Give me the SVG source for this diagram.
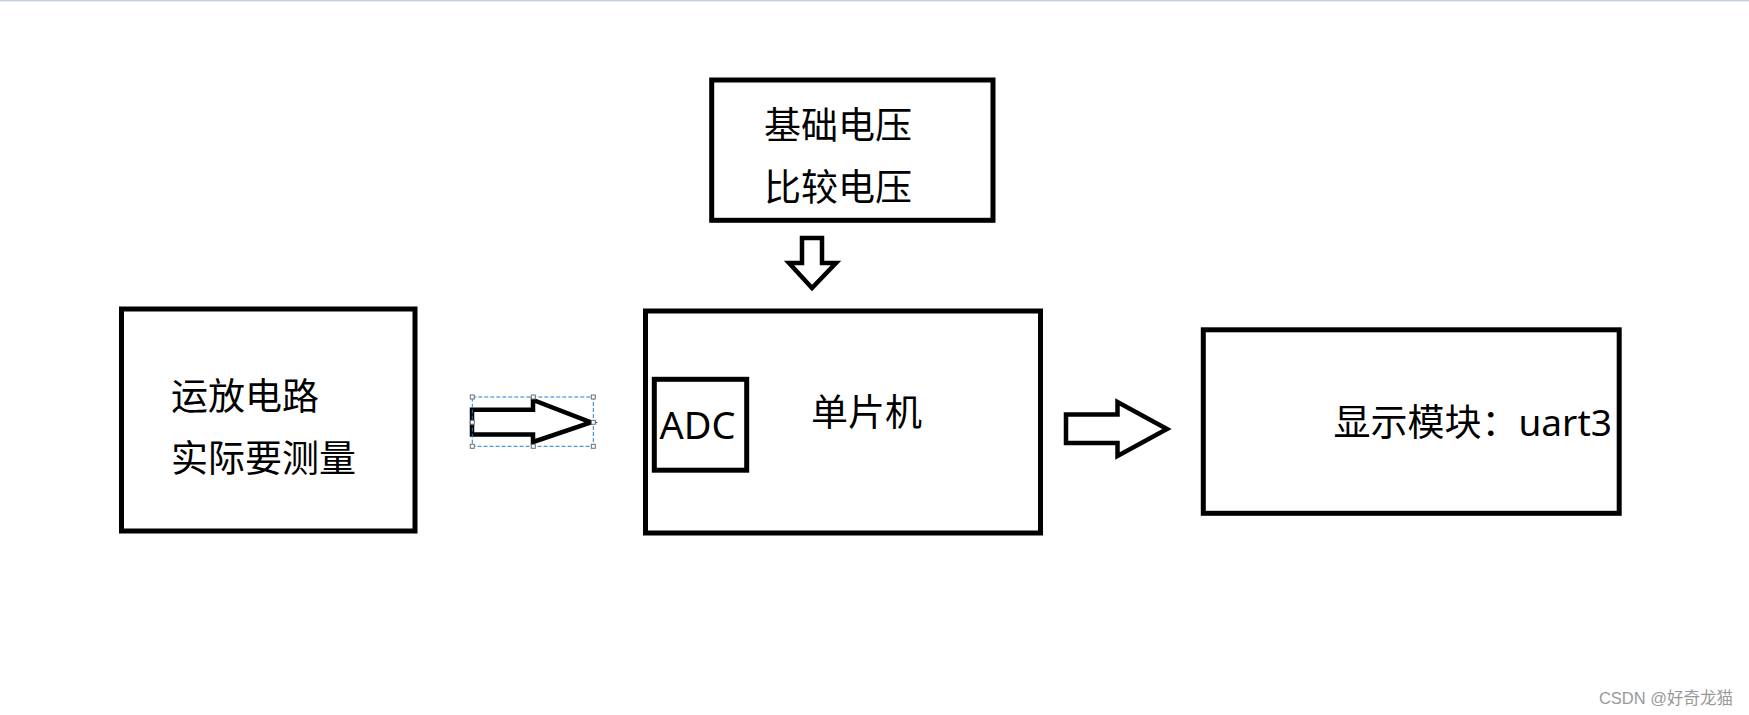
<svg xmlns="http://www.w3.org/2000/svg" width="1749" height="715" viewBox="0 0 1749 715">
<style>
.box{fill:none;stroke:#000;stroke-width:5}
.arr{fill:#fff;stroke:#000;stroke-width:4.5;stroke-linejoin:miter}
.t{font-family:"Noto Sans","Noto Sans CJK SC",sans-serif;fill:#000}
.h{fill:#fff;stroke:#6e6e6e;stroke-width:1}
</style>
<rect x="0" y="0" width="1749" height="715" fill="#fff"/>
<rect x="0" y="0" width="1749" height="1.3" fill="#c3cde0"/>
<g id="node-opamp">
<rect class="box" x="121.5" y="309" width="293.5" height="222"/>
<text class="t" x="171" y="410" font-size="37">运放电路</text>
<text class="t" x="171" y="472" font-size="37">实际要测量</text>
</g>
<g id="node-ref">
<rect class="box" x="711.7" y="80" width="281.3" height="140.3"/>
<text class="t" x="764" y="139" font-size="37">基础电压</text>
<text class="t" x="764" y="200.5" font-size="37">比较电压</text>
</g>
<g id="node-mcu">
<rect class="box" x="645.5" y="311" width="395" height="222"/>
<text class="t" x="811" y="425.5" font-size="37">单片机</text>
</g>
<g id="node-adc">
<rect class="box" x="654.3" y="379.3" width="92.4" height="90.9"/>
<text class="t" x="659.5" y="439.3" font-size="38">ADC</text>
</g>
<g id="node-display">
<rect class="box" x="1203.3" y="329.8" width="415.9" height="183.5"/>
<text class="t" x="1333.5" y="435.5" font-size="37">显示模块：uart3</text>
</g>
<g id="connectors">
<polygon class="arr" points="802,238 822,238 822,263 836,263 812,288 789,263 802,263"/>
<polygon class="arr" stroke-width="5" points="472,409.7 533,409.7 533,400 591,422.3 533,442 533,434.5 472,434.5"/>
<polygon class="arr" points="1066,414.5 1117.5,414.5 1117.5,402 1167,429 1117.5,456 1117.5,443 1066,443"/>
</g>
<g id="selection">
<rect x="472.3" y="397" width="121" height="49.3" fill="none" stroke="#1f7fd6" stroke-width="1" stroke-dasharray="4 2"/>
<rect class="h" x="470.3" y="395" width="4" height="4"/>
<rect class="h" x="531.3" y="395" width="4" height="4"/>
<rect class="h" x="591.3" y="395" width="4" height="4"/>
<rect class="h" x="470.3" y="420.3" width="4" height="4"/>
<rect class="h" x="591.3" y="420.3" width="4" height="4"/>
<rect class="h" x="470.3" y="444.3" width="4" height="4"/>
<rect class="h" x="531.3" y="444.3" width="4" height="4"/>
<rect class="h" x="591.3" y="444.3" width="4" height="4"/>
</g>
<text font-family="'Liberation Sans','Noto Sans CJK SC',sans-serif" font-size="16.5" fill="#999" x="1733" y="704" text-anchor="end">CSDN @好奇龙猫</text>
</svg>
